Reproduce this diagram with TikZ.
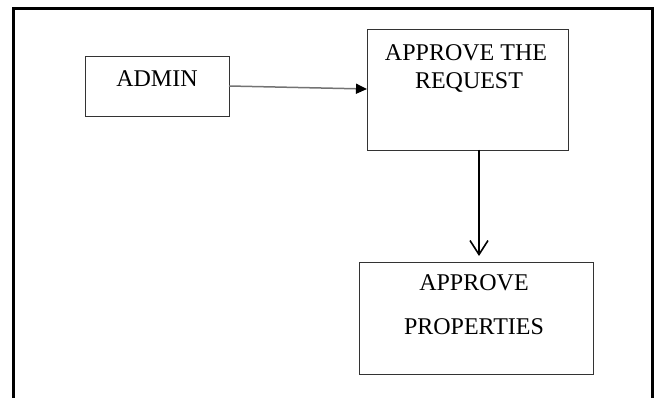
\documentclass[tikz,border=0pt]{standalone}
\usepackage{fontspec}
\setmainfont{Liberation Serif}
\usetikzlibrary{arrows.meta}
\begin{document}
\begin{tikzpicture}[x=1pt,y=-1pt,
  boxnode/.style={draw=black!80,line width=1pt,rectangle,inner sep=0pt,anchor=north west},
  lbl/.style={font=\fontsize{24}{28}\selectfont,inner sep=0pt,text=black}]
\useasboundingbox (0,0) rectangle (657,398);
\draw[line width=3pt] (13,400) -- (13,9) -- (652,9) -- (652,400);
% boxes
\node[boxnode,minimum width=144pt,minimum height=60pt] (admin) at (85,56) {};
\node[boxnode,minimum width=201pt,minimum height=121pt] (req) at (367,29) {};
\node[boxnode,minimum width=234pt,minimum height=112pt] (prop) at (359,262) {};
% labels
\node[lbl] (tadmin) at (157,79) {ADMIN};
\node[lbl] (treq1) at (466,53) {APPROVE THE};
\node[lbl] (treq2) at (469,83) {REQUEST};
\node[lbl] (tprop1) at (474,283) {APPROVE};
\node[lbl] (tprop2) at (474,327) {PROPERTIES};
% connectors
\coordinate (a1) at (229,86);
\coordinate (a2) at (367,89);
\draw[black!55,line width=1.5pt,-{Triangle[length=11pt,width=10pt,color=black]}] (a1) -- (a2);
\coordinate (b1) at (479,150);
\coordinate (b2) at (479,256);
\draw[black,line width=1.8pt,-{Straight Barb[length=14pt,width=18pt,line width=1.6pt]}] (b1) -- (b2);
\end{tikzpicture}
\end{document}
